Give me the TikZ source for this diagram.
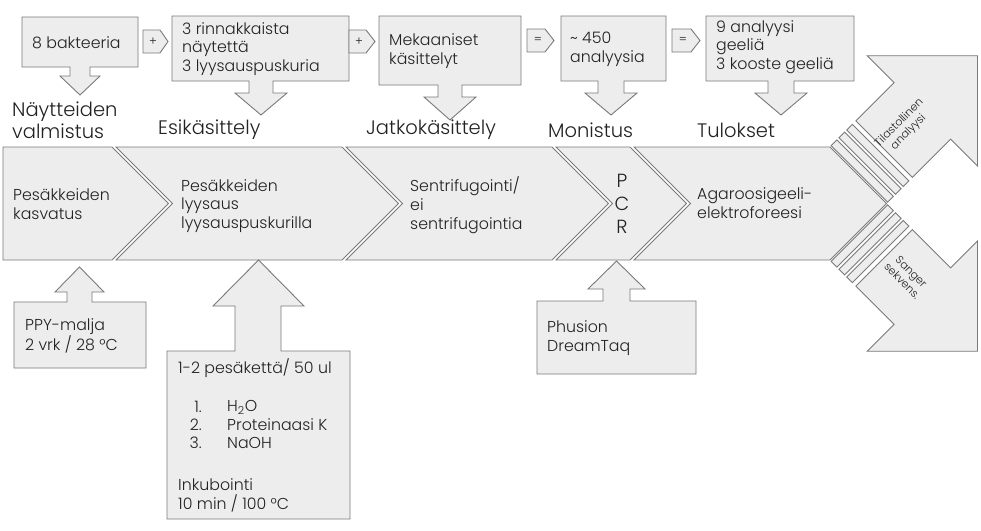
\documentclass[tikz,border=0pt]{standalone}
\usepackage{fontspec}
\setmainfont{Poppins Light}
\definecolor{fillg}{HTML}{EDEDED}
\definecolor{lineg}{HTML}{7A7A7A}
\definecolor{txtc}{HTML}{222222}
\begin{document}
\begin{tikzpicture}[x=1pt,y=-1pt,
  shp/.style={fill=fillg,draw=lineg,line width=0.9pt,line join=miter},
  lbl/.style={text=txtc,font=\fontsize{15.8}{18.8}\selectfont,inner sep=0pt,anchor=west,align=left},
  biglbl/.style={text=txtc,font=\fontsize{19.5}{22}\selectfont,inner sep=0pt,anchor=west,align=left},
  smalllbl/.style={text=txtc,font=\fontsize{11}{13}\selectfont,inner sep=0pt,align=center},
  oplbl/.style={text=txtc,font=\fontsize{12}{14}\selectfont,inner sep=0pt}]
\useasboundingbox (0,0) rectangle (981,530);
\fill[white] (0,0) rectangle (981,530);

% ---- top boxes with down arrows
\draw[shp] (22,17) -- (138,17) -- (138,67) -- (90,67) -- (90,76) -- (100,76) -- (80,95) -- (60,76) -- (70,76) -- (70,67) -- (22,67) -- cycle;
\draw[shp] (172,16) -- (349,16) -- (349,81) -- (273,81) -- (273,93) -- (287,93) -- (261,115) -- (235,93) -- (249,93) -- (249,81) -- (172,81) -- cycle;
\draw[shp] (379,16) -- (521,16) -- (521,85) -- (462,85) -- (462,97) -- (476,97) -- (450,120) -- (424,97) -- (438,97) -- (438,85) -- (379,85) -- cycle;
\draw[shp] (561,16) -- (666,16) -- (666,81) -- (624,81) -- (624,93) -- (637,93) -- (611,115) -- (585,93) -- (598,93) -- (598,81) -- (561,81) -- cycle;
\draw[shp] (706,16) -- (854,16) -- (854,81) -- (794,81) -- (794,93) -- (807,93) -- (781,115) -- (755,93) -- (768,93) -- (768,81) -- (706,81) -- cycle;

\node[lbl] (b1) at (32,43) {8 bakteeria};
\node[lbl] (b2) at (182,49) {3 rinnakkaista\\näytettä\\3 lyysauspuskuria};
\node[lbl] (b3) at (389,51) {Mekaaniset\\käsittelyt};
\node[lbl] (b4) at (570,49) {\textasciitilde\ 450\\analyysia};
\node[lbl] (b5) at (716,47) {9 analyysi\\geeliä\\3 kooste geeliä};

% ---- small operator arrows
\draw[shp] (143,30) -- (160,30) -- (168,41.5) -- (160,53) -- (143,53) -- cycle;
\node[oplbl] (op1) at (153,41.5) {+};
\draw[shp] (349,30) -- (366,30) -- (375,41.5) -- (366,53) -- (349,53) -- cycle;
\node[oplbl] (op2) at (359,41.5) {+};
\draw[shp] (527,29) -- (545,29) -- (554,40.5) -- (545,52) -- (527,52) -- cycle;
\node[oplbl] (op3) at (538,40.5) {=};
\draw[shp] (672,29) -- (691,29) -- (700,40.5) -- (691,52) -- (672,52) -- cycle;
\node[oplbl] (op4) at (683,40.5) {=};

% ---- stage labels
\node[biglbl] (s1) at (12,120) {Näytteiden\\valmistus};
\node[biglbl] (s2) at (158,130) {Esikäsittely};
\node[biglbl] (s3) at (366,130) {Jatkokäsittely};
\node[biglbl] (s4) at (548,130) {Monistus};
\node[biglbl] (s5) at (697,130) {Tulokset};

% ---- chevron band
\draw[shp] (3,147) -- (112,147) -- (168.5,203.5) -- (112,260) -- (3,260) -- cycle;
\draw[shp] (116,147) -- (342,147) -- (398.5,203.5) -- (342,260) -- (116,260) -- (172.5,203.5) -- cycle;
\draw[shp] (346,147) -- (552,147) -- (608.5,203.5) -- (552,260) -- (346,260) -- (402.5,203.5) -- cycle;
\draw[shp] (556,147) -- (630,147) -- (686.5,203.5) -- (630,260) -- (556,260) -- (612.5,203.5) -- cycle;
\draw[shp] (634,147) -- (830,147) -- (886.5,203.5) -- (830,260) -- (634,260) -- (690.5,203.5) -- cycle;

\node[lbl] (c1) at (13,204) {Pesäkkeiden\\kasvatus};
\node[lbl] (c2) at (181,206) {Pesäkkeiden\\lyysaus\\lyysauspuskurilla};
\node[lbl] (c3) at (410,205) {Sentrifugointi/\\ei\\sentrifugointia};
\node[text=txtc,font=\fontsize{19}{23}\selectfont,inner sep=0pt,align=center] (c4) at (622,204) {P\\C\\R};
\node[lbl] (c5) at (697,203) {Agaroosigeeli-\\elektroforeesi};

% ---- diverging arrows on the right
\begin{scope}[shift={(858,175.25)},rotate=45]
  \draw[shp] (2,-40) rectangle (10,40);
  \draw[shp] (13,-40) rectangle (21,40);
  \draw[shp] (24,-40) rectangle (32,40);
  \draw[shp] (37,-40) -- (91,-40) -- (91,-78) -- (169,0) -- (91,78) -- (91,40) -- (37,40) -- cycle;
  \node[smalllbl,transform shape] (r1) at (66,-1) {Tilastollinen\\analyysi};
\end{scope}
\begin{scope}[shift={(858,231.75)},rotate=-45]
  \draw[shp] (2,-40) rectangle (10,40);
  \draw[shp] (13,-40) rectangle (21,40);
  \draw[shp] (24,-40) rectangle (32,40);
  \draw[shp] (37,-40) -- (91,-40) -- (91,-78) -- (169,0) -- (91,78) -- (91,40) -- (37,40) -- cycle;
  \node[smalllbl,transform shape] (r2) at (66,-3) {Sanger\\sekvens.};
\end{scope}

% ---- bottom boxes with up arrows
\draw[shp] (14,302) -- (67,302) -- (67,292) -- (55,292) -- (79.5,267) -- (104,292) -- (92,292) -- (92,302) -- (146,302) -- (146,368) -- (14,368) -- cycle;
\draw[shp] (167,351) -- (235,351) -- (235,306) -- (213,306) -- (258.5,260) -- (304,306) -- (281,306) -- (281,351) -- (350,351) -- (350,519) -- (167,519) -- cycle;
\draw[shp] (537,301) -- (603,301) -- (603,289) -- (588,289) -- (616.5,261) -- (645,289) -- (630,289) -- (630,301) -- (696,301) -- (696,374) -- (537,374) -- cycle;

\node[lbl] (d1) at (25,336) {PPY-malja\\2 vrk / 28 °C};
\node[lbl] (d2) at (178,368) {1-2 pesäkettä/ 50 ul};
\node[lbl,anchor=east] (n1) at (202,407) {1.};
\node[lbl,anchor=east] (n2) at (202,425) {2.};
\node[lbl,anchor=east] (n3) at (202,443) {3.};
\node[lbl] (i1) at (227,407) {H\textsubscript{2}O};
\node[lbl] (i2) at (227,425) {Proteinaasi K};
\node[lbl] (i3) at (227,443) {NaOH};
\node[lbl] (d3) at (178,495) {Inkubointi\\10 min / 100 °C};
\node[lbl] (d4) at (547,338) {Phusion\\DreamTaq};
\end{tikzpicture}
\end{document}
